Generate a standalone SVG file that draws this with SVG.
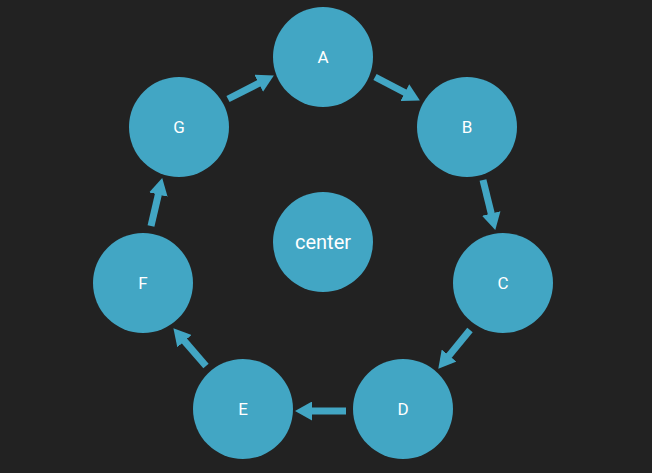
<svg xmlns="http://www.w3.org/2000/svg" width="652" height="473" viewBox="0 0 652 473">
<defs>
<style>
.node circle{fill:#42a6c4;}
.node text{fill:#ffffff;font-family:Roboto,"Liberation Sans",sans-serif;font-size:17px;text-anchor:middle;dominant-baseline:central;}
.edge{stroke:#42a6c4;stroke-width:7;fill:none;}
</style>
<marker id="ah" markerUnits="userSpaceOnUse" markerWidth="17" markerHeight="19" viewBox="0 0 17 19" refX="2" refY="9.5" orient="auto">
<path d="M0,0 L17,9.5 L0,19 Z" fill="#42a6c4"/>
</marker>
</defs>
<rect width="652" height="473" fill="#222222"/>
<g id="connectors">
<line class="edge" x1="228" y1="99" x2="260.5" y2="82.4" marker-end="url(#ah)"/>
<line class="edge" x1="375" y1="77" x2="406.6" y2="93.5" marker-end="url(#ah)"/>
<line class="edge" x1="483" y1="180" x2="491.7" y2="215.4" marker-end="url(#ah)"/>
<line class="edge" x1="470" y1="330" x2="447.8" y2="357.1" marker-end="url(#ah)"/>
<line class="edge" x1="346" y1="411" x2="310" y2="411" marker-end="url(#ah)"/>
<line class="edge" x1="206" y1="366" x2="183.2" y2="339.6" marker-end="url(#ah)"/>
<line class="edge" x1="151" y1="226" x2="158.8" y2="192.6" marker-end="url(#ah)"/>
</g>
<g id="A" class="node"><circle cx="323" cy="57" r="50"/><text x="323" y="57">A</text></g>
<g id="B" class="node"><circle cx="467" cy="127" r="50"/><text x="467" y="127">B</text></g>
<g id="C" class="node"><circle cx="503" cy="283" r="50"/><text x="503" y="283">C</text></g>
<g id="D" class="node"><circle cx="403" cy="409" r="50"/><text x="403" y="409">D</text></g>
<g id="E" class="node"><circle cx="243" cy="409" r="50"/><text x="243" y="409">E</text></g>
<g id="F" class="node"><circle cx="143" cy="283" r="50"/><text x="143" y="283">F</text></g>
<g id="G" class="node"><circle cx="179" cy="127" r="50"/><text x="179" y="127">G</text></g>
<g id="center" class="node"><circle cx="323" cy="242" r="50"/><text x="323" y="242" style="font-size:20px">center</text></g>
</svg>
